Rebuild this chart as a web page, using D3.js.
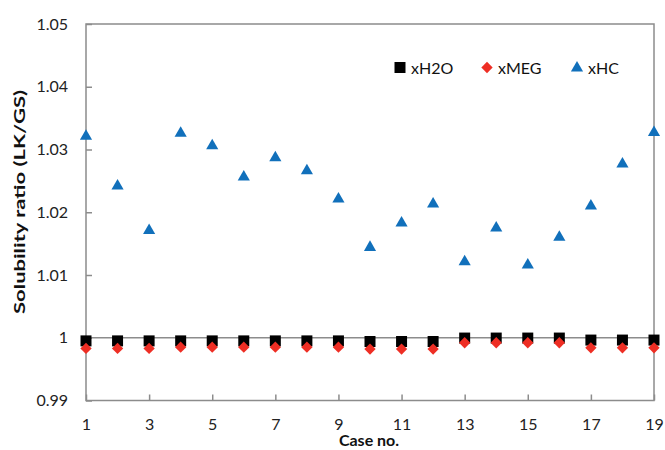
<!DOCTYPE html>
<html><head><meta charset="utf-8">
<script src="https://cdn.jsdelivr.net/npm/d3@7/dist/d3.min.js"></script>
<style>body{margin:0;background:#fff;} text{font-family:Lato,"Open Sans",sans-serif;}</style>
</head><body><svg id="c" width="665" height="450"></svg>
<script>
const cases = d3.range(1, 20);
const xH2O = [0.9995,0.9995,0.9995,0.9995,0.9995,0.9995,0.9995,0.9995,0.9995,0.9994,0.9994,0.9994,0.99995,0.99995,0.99995,0.99995,0.99963,0.99963,0.99963];
const xMEG = [0.9983,0.9983,0.9983,0.9985,0.9985,0.9985,0.9985,0.9985,0.9985,0.9982,0.9982,0.9982,0.9992,0.9992,0.9992,0.9992,0.9984,0.9984,0.9984];
const xHC  = [1.0321,1.0242,1.0171,1.0326,1.0306,1.0256,1.0287,1.0266,1.0221,1.0144,1.0183,1.0213,1.0121,1.0175,1.0116,1.0160,1.0210,1.0277,1.0327];
const yTicks = [0.99,1,1.01,1.02,1.03,1.04,1.05];
const xTicks = [1,3,5,7,9,11,13,15,17,19];
const seriesNames = ["xH2O","xMEG","xHC"];
const colors = {xH2O:"#000000", xMEG:"#ee2e24", xHC:"#1170bb"};

const svg = d3.select("#c");
const L=86, R=654, T=24, B=400.5;
const x = d3.scaleLinear().domain([1,19]).range([L,R]);
const y = d3.scaleLinear().domain([0.99,1.05]).range([B,T]);
const axisColor = "#8c8c8c";

svg.append("rect").attr("x",L).attr("y",T).attr("width",R-L).attr("height",B-T)
  .attr("fill","none").attr("stroke",axisColor).attr("stroke-width",1.5);
svg.append("line").attr("x1",L).attr("x2",R).attr("y1",y(1)).attr("y2",y(1))
  .attr("stroke",axisColor).attr("stroke-width",1.5);

const yAxis = d3.axisLeft(y).tickValues(yTicks).tickFormat(d=>String(+d.toFixed(2))).tickSizeInner(-6).tickSizeOuter(0).tickPadding(18);
const gy = svg.append("g").attr("transform",`translate(${L},0)`).call(yAxis);
gy.select(".domain").remove();
gy.selectAll(".tick line").attr("stroke",axisColor).attr("stroke-width",1.5);
gy.selectAll(".tick text").attr("font-size",16).attr("fill","#222").attr("font-family","Lato,sans-serif");

const xAxis = d3.axisBottom(x).tickValues(xTicks).tickFormat(d3.format("d")).tickSizeInner(-6).tickSizeOuter(0).tickPadding(18);
const gx = svg.append("g").attr("transform",`translate(0,${B})`).call(xAxis);
gx.select(".domain").remove();
gx.selectAll(".tick line").attr("stroke",axisColor).attr("stroke-width",1.5);
gx.selectAll(".tick text").attr("font-size",16).attr("fill","#222").attr("font-family","Lato,sans-serif");

svg.append("text").attr("x",369).attr("y",446).attr("text-anchor","middle")
  .attr("font-size",16).attr("font-weight","bold").attr("fill","#111").text("Case no.");
svg.append("text").attr("transform","translate(25,202) rotate(-90)").attr("text-anchor","middle")
  .attr("font-size",16).attr("font-weight","bold").attr("fill","#111")
  .attr("textLength",224).attr("lengthAdjust","spacingAndGlyphs").text("Solubility ratio (LK/GS)");

const rot = {xH2O:0, xMEG:45, xHC:0};
const symType = {xH2O:d3.symbolSquare, xMEG:d3.symbolSquare, xHC:d3.symbolTriangle};
const symSize = {xH2O:121, xMEG:64, xHC:64};
const data = {xH2O, xMEG, xHC};
seriesNames.forEach(n=>{
  const p = d3.symbol().type(symType[n]).size(symSize[n])();
  svg.append("g").selectAll("path").data(data[n]).join("path")
    .attr("d", p)
    .attr("transform",(d,i)=>`translate(${x(cases[i])},${y(d)}) rotate(${rot[n]})`)
    .attr("fill",colors[n]);
});

const legX = [400, 487, 577];
seriesNames.forEach((n,i)=>{
  const p = d3.symbol().type(symType[n]).size(symSize[n])();
  svg.append("path").attr("d", p)
    .attr("transform",`translate(${legX[i]},${n==="xHC"?68:67.5}) rotate(${rot[n]})`).attr("fill",colors[n]);
  svg.append("text").attr("x",legX[i]+11).attr("y",73.5).attr("font-size",16).attr("fill","#111").text(n);
});
</script></body></html>
